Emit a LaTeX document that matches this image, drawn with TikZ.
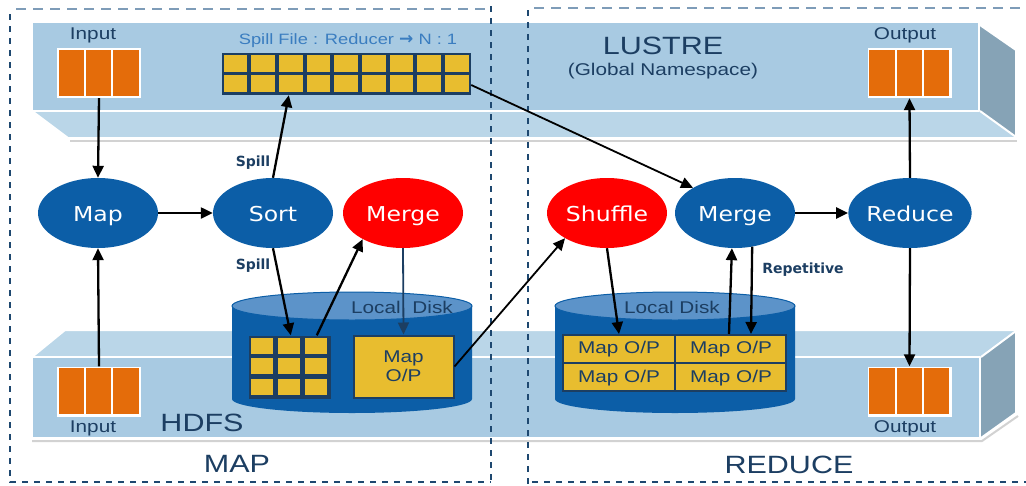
\documentclass[tikz,border=0pt]{standalone}
\usepackage{fontspec}
\setmainfont[FakeStretch=1.22]{Liberation Sans}
\newfontfamily\symfont{DejaVu Sans}
\newfontfamily\procfont[FakeStretch=1.15]{DejaVu Sans}
\usetikzlibrary{shapes.geometric,arrows.meta,calc}

\definecolor{slabFront}{HTML}{A8CAE2}
\definecolor{slabFace}{HTML}{BAD6E8}
\definecolor{slabSide}{HTML}{86A3B6}
\definecolor{procBlue}{HTML}{0C5EA7}
\definecolor{procRed}{HTML}{FF0000}
\definecolor{diskTop}{HTML}{5C93C9}
\definecolor{navy}{HTML}{1C3E62}
\definecolor{frameDark}{HTML}{1E4870}
\definecolor{frameLight}{HTML}{7E9CB8}
\definecolor{dataOrange}{HTML}{E46C0A}
\definecolor{cellYellow}{HTML}{E8BD2F}
\definecolor{labelBlue}{HTML}{3A7DC0}

\newcommand\fs[1]{\fontsize{#1}{#1}\selectfont}

\tikzset{
  proc/.style={ellipse, minimum width=120pt, minimum height=70pt, inner sep=0pt,
               text height=18pt, text depth=1pt,
               text=white, font=\procfont\fs{20.5}},
  blueproc/.style={proc, fill=procBlue},
  redproc/.style={proc, fill=procRed},
  blk/.style={rectangle, fill=white, minimum width=84pt, minimum height=50pt, inner sep=0pt},
  gridbg/.style={rectangle, fill=navy, inner sep=0pt},
  arr/.style={draw=black, line width=2.3pt, -{Triangle[length=12pt,width=11pt]}},
  thinarr/.style={draw=black, line width=1.8pt, -{Triangle[length=12pt,width=11pt]}},
  navyarr/.style={draw=navy, line width=1.8pt, -{Triangle[length=12pt,width=11pt]}},
  sidedash/.style={draw=frameDark, line width=2.8pt, dash pattern=on 6pt off 6pt},
  topdash/.style={draw=frameLight, line width=1.5pt, dash pattern=on 10pt off 7pt},
  edge/.style={draw=white, line width=2pt, line join=round},
  lbl/.style={text=navy, inner sep=0pt},
  spilllbl/.style={text=navy, font=\symfont\bfseries\fs{14}, inner sep=0pt},
}

% orange data block: white frame holding three bars
\newcommand\datablock[2]{%
  \node[blk] (#1) at (#2) {};
  \foreach \i in {0,1,2}
    \fill[dataOrange] ($(#1.north west)+(2+\i*27.33,2)$) rectangle ++(25.33,46);
}

\begin{document}
\begin{tikzpicture}[x=1pt,y=-1pt]
\useasboundingbox (0,0) rectangle (1026,485);
\fill[white] (0,0) rectangle (1026,485);

% ---- LUSTRE slab (upper) ----
\draw[gray!35, line width=2pt] (70,141) -- (1017,141);
\fill[slabFace] (32,111) -- (979,111) -- (1016,137) -- (68,138) -- cycle;
\draw[edge] (32,111) -- (68,138) -- (1016,138);
\fill[slabSide] (980,25) -- (1016,50) -- (1016,137) -- (980,111) -- cycle;
\draw[edge] (980,25) -- (1016,50) -- (1016,137) -- (980,111);
\fill[slabFront] (32,22) rectangle (979,111);
\draw[edge] (32,22) rectangle (979,111);

% ---- HDFS slab (lower) ----
\draw[gray!35, line width=2pt] (32,441) -- (982,441) -- (1018,416);
\fill[slabFace] (65,330) -- (1016,330) -- (980,357) -- (32,357) -- cycle;
\draw[edge] (32,357) -- (65,330) -- (1016,330);
\fill[slabSide] (981,357) -- (1016,331) -- (1016,413) -- (981,438) -- cycle;
\draw[edge] (981,357) -- (1016,331) -- (1016,413) -- (981,438);
\fill[slabFront] (32,357) rectangle (980,438);
\draw[edge] (32,357) rectangle (980,438);

% ---- slab labels ----
\node[lbl, font=\fs{25}] (lustre) at (663,46) {LUSTRE};
\node[lbl, font=\fs{17}] (gns) at (663,71) {(Global Namespace)};
\node[lbl, font=\fs{25}] (hdfs) at (202,423) {HDFS};
\node[text=labelBlue, font=\fs{15}, inner sep=0pt] (spilltitle) at (348,41)
  {Spill File : Reducer {\symfont\bfseries\fs{17}→} N : 1};

% ---- data blocks ----
\datablock{inTop}{99,73}
\datablock{inBot}{99,391.5}
\datablock{outTop}{909.5,73}
\datablock{outBot}{909.5,391.5}
\node[lbl, font=\fs{17}] (inTopL) at (93,35) {Input};
\node[lbl, font=\fs{17}] (inBotL) at (93,428) {Input};
\node[lbl, font=\fs{17}] (outTopL) at (905,35) {Output};
\node[lbl, font=\fs{17}] (outBotL) at (905,428) {Output};

% ---- spill file grid 9 x 2 ----
\node[gridbg, minimum width=249pt, minimum height=42pt] (spill) at (346.5,74) {};
\foreach \i in {0,...,8}
  \foreach \j in {0,1}
    \fill[cellYellow] ($(spill.north west)+(2+\i*27.67,2+\j*20.5)$) rectangle ++(23.67,17);

% ---- local disks ----
\foreach \cx/\nm in {352/diskL, 675/diskR}{
  \fill[procBlue] (\cx-120,306) -- (\cx-120,399)
     arc[start angle=180, end angle=360, x radius=120pt, y radius=14pt]
     -- (\cx+120,306) -- cycle;
  \fill[diskTop] (\cx,306) ellipse [x radius=120pt, y radius=14pt];
  \draw[procBlue, line width=1pt] (\cx,306) ellipse [x radius=120pt, y radius=14pt];
}
\node[lbl, font=\fs{17}] (diskLL) at (402,307) {Local\hspace{6pt} Disk};
\node[lbl, font=\fs{17}] (diskRL) at (672,307) {Local Disk};

% left disk: 3 x 3 spill cells and merged map output
\node[gridbg, minimum width=82pt, minimum height=63pt] (grid3) at (290,367) {};
\foreach \i in {0,1,2}
  \foreach \j in {0,1,2}
    \fill[cellYellow] ($(grid3.north west)+(2.5+\i*26.67,2.5+\j*20.5)$) rectangle ++(22,16);
\node[rectangle, fill=cellYellow, draw=navy, line width=2pt, minimum width=100pt,
      minimum height=62pt, inner sep=0pt, text=navy, font=\fs{17}, align=center]
      (mopL) at (403.5,366.5) {Map\\[2pt]O/P};

% right disk: 2 x 2 map outputs
\node[rectangle, draw=navy, fill=cellYellow, line width=2pt, minimum width=223pt,
      minimum height=56pt, inner sep=0pt] (mopR) at (674.5,363) {};
\draw[navy, line width=2pt] (mopR.north) -- (mopR.south) (mopR.west) -- (mopR.east);
\foreach \px/\py/\nm in {619/349/a, 731/349/b, 619/378/c, 731/378/d}
  \node[lbl, font=\fs{17}] (mop\nm) at (\px,\py) {Map O/P};

% ---- phase frames ----
\draw[topdash] (16,9) -- (491,9);
\draw[sidedash] (10,14) -- (10,482) -- (491,482);
\draw[sidedash] (491,6) -- (491,485);
\draw[topdash] (534,8) -- (1022,8);
\draw[sidedash] (528,10) -- (528,485);
\draw[sidedash] (532,482) -- (1026,482);
\node[lbl, font=\fs{25}] (mapL) at (237,464) {MAP};
\node[lbl, font=\fs{25}] (redL) at (789,465) {REDUCE};

% ---- processing steps ----
\node[blueproc] (map) at (98,213) {Map};
\node[blueproc] (sort) at (273,213) {Sort};
\node[redproc] (merge1) at (403,213) {Merge};
\node[redproc] (shuffle) at (607,213) {Shuffle};
\node[blueproc] (merge2) at (735,213) {Merge};
\node[blueproc] (reduce) at (910,213) {Reduce};

% ---- flow ----
\draw[arr] (inTop.south) -- (map.north);
\draw[arr] (inBot.north) -- (map.south);
\draw[arr] (map.east) -- (sort.west);
\draw[arr] (sort.north) -- ($(spill.south west)+(67,0)$);
\draw[arr] (sort.south) -- ($(grid3.north west)+(42,0)$);
\draw[arr] ($(grid3.north west)+(68,0)$) -- (merge1.213);
\draw[navyarr] (merge1.south) -- (mopL.north);
\draw[thinarr] (mopL.east) -- (shuffle.211);
\draw[thinarr] ($(spill.east)+(0,11)$) -- (merge2.149);
\draw[arr] (shuffle.south) -- ($(mopR.north west)+(57,0)$);
\draw[arr] ($(mopR.north west)+(167,0)$) -- (merge2.265);
\draw[arr] (merge2.297) -- ($(mopR.north west)+(189,0)$);
\draw[arr] (merge2.east) -- (reduce.west);
\draw[arr] (reduce.north) -- (outTop.south);
\draw[arr] (reduce.south) -- (outBot.north);

\node[spilllbl] (spill1) at (253,163) {Spill};
\node[spilllbl] (spill2) at (253,266) {Spill};
\node[spilllbl] (rep) at (803,270) {Repetitive};
\end{tikzpicture}
\end{document}
